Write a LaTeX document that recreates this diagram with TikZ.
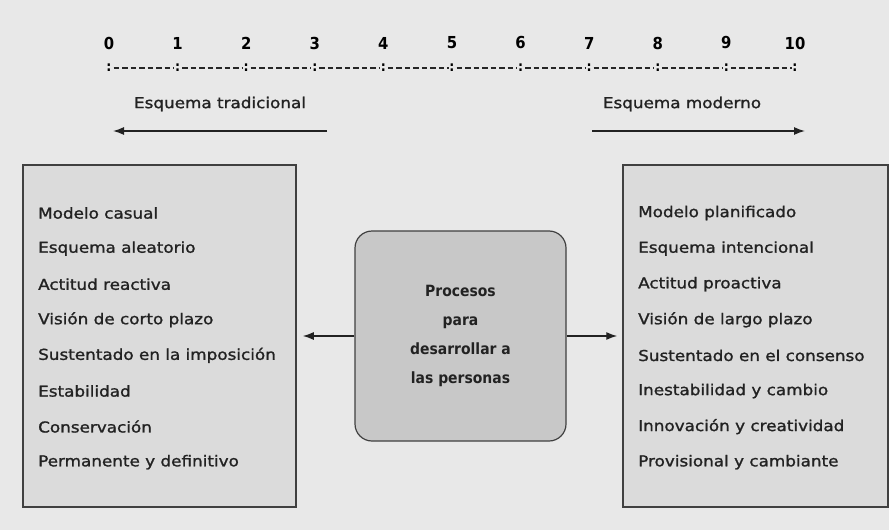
\documentclass[tikz,border=0pt]{standalone}
\usepackage{fontspec}
\setmainfont[FakeStretch=1.12,FakeBold=1.3]{DejaVu Sans}
\newfontfamily\condfont{DejaVu Sans Condensed}
\usetikzlibrary{arrows.meta}
\definecolor{bgcol}{HTML}{E8E8E8}
\definecolor{boxcol}{HTML}{DBDBDB}
\definecolor{midcol}{HTML}{C8C8C8}
\definecolor{inkcol}{HTML}{222222}

\begin{document}
\begin{tikzpicture}[x=1pt,y=-1pt,
    number/.style ={inner sep=0pt, font=\condfont\bfseries\fontsize{16.5}{16.5}\selectfont},
    colon/.style ={inner sep=0pt, font=\condfont\bfseries\fontsize{14}{14}\selectfont},
    heading/.style ={text=inkcol, font=\fontsize{15}{17}\selectfont},
    item/.style ={anchor=west, inner sep=0pt, text=inkcol, font=\fontsize{15}{17}\selectfont},
    column/.style ={draw=black!75, line width=1.5pt, fill=boxcol},
    process/.style ={draw=black!75, line width=1.2pt, fill=midcol, rounded corners=17pt,
       minimum width=211pt, minimum height=210pt, align=center, text=inkcol,
       font=\condfont\bfseries\fontsize{15.5}{29}\selectfont},
    link/.style ={-{Latex[length=11pt,width=8pt]}, line width=1.4pt, draw=inkcol}]
   \useasboundingbox[fill=bgcol] (0,0) rectangle (889,530);

   % scale 0 ... 10
   \foreach \n in {0,...,10} {
      \node[number] (n\n) at (109+68.6*\n,43) {\n};
      \node[colon] (c\n) at (109+68.6*\n,68) {:};
   }
   \foreach \a [evaluate=\a as \b using int(\a+1)] in {0,...,9}
      \draw[line width=2.2pt, draw=black!85, dash pattern=on 5.5pt off 3pt, dash phase=-1pt]
         ([xshift=3.5pt]c\a.center) -- ([xshift=-3.5pt]c\b.center);

   % traditional vs modern
   \node[heading] (tradlabel) at (220,104) {Esquema tradicional};
   \node[heading] (modlabel) at (682,104) {Esquema moderno};
   \coordinate (tradR) at (327,131);
   \coordinate (tradL) at (113,131);
   \coordinate (modL) at (592,131);
   \coordinate (modR) at (805,131);
   \draw[link] (tradR) -- (tradL);
   \draw[link] (modL) -- (modR);

   \node[column, minimum width=273pt, minimum height=342pt] (trad) at (159.5,336) {};
   \node[column, minimum width=265pt, minimum height=342pt] (mod) at (755.5,336) {};

   \foreach \t [count=\i from 0] in {Modelo casual, Esquema aleatorio, Actitud reactiva,
      Visión de corto plazo, Sustentado en la imposición, Estabilidad, Conservación,
      Permanente y definitivo}
      \node[item] (trad\i) at (38,213+35.6*\i) {\t};
   \foreach \t [count=\i from 0] in {Modelo planificado, Esquema intencional, Actitud proactiva,
      Visión de largo plazo, Sustentado en el consenso, Inestabilidad y cambio,
      Innovación y creatividad, Provisional y cambiante}
      \node[item] (mod\i) at (638,213+35.6*\i) {\t};

   \node[process] (proc) at (460.5,336) {Procesos\\para\\desarrollar a\\las personas};

   \draw[link, shorten >=6pt] (proc.west) -- (proc.west -| trad.east);
   \draw[link, shorten >=5pt] (proc.east) -- (proc.east -| mod.west);
 \end{tikzpicture}
\end{document}
